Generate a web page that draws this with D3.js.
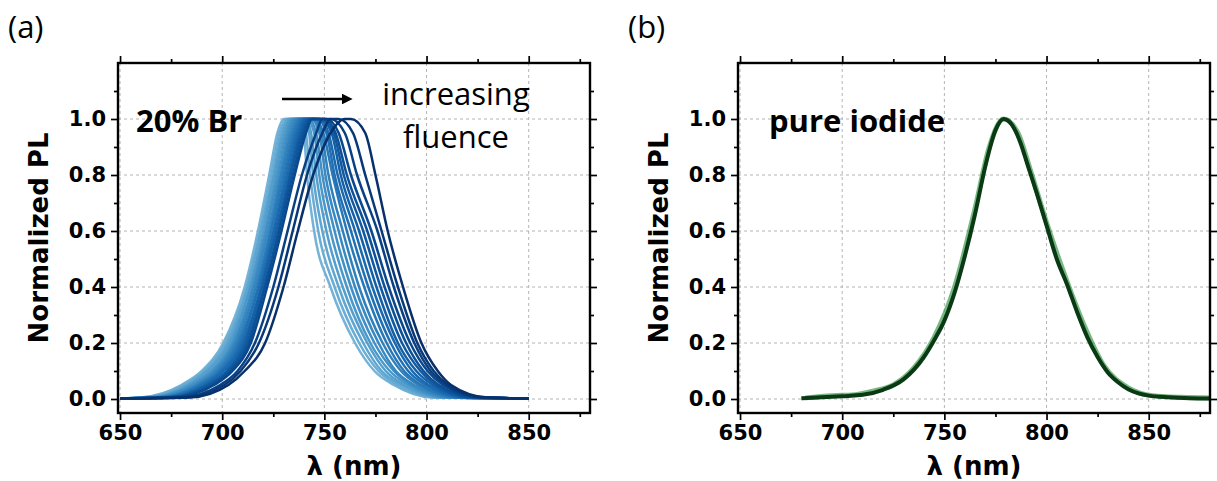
<!DOCTYPE html>
<html>
<head>
<meta charset="utf-8">
<script src="https://cdn.jsdelivr.net/npm/d3@7"></script>
<style>
  body { margin: 0; background: #fff; }
  svg text { fill: #000; }
  .tick-label { font-family: "DejaVu Sans"; font-weight: bold; font-size: 21px; }
  .axis-title { font-family: "DejaVu Sans"; font-weight: bold; font-size: 26px; }
  .note { font-family: "Open Sans"; font-size: 31px; }
  .grid line { stroke: #b4b4b4; stroke-width: 1; stroke-dasharray: 3,3; }
</style>
</head>
<body>
<svg id="chart" width="1217" height="481"></svg>
<script>
var levelsUp = [0.005, 0.05, 0.1, 0.2, 0.4, 0.6, 0.8, 0.95, 1.0];
var levelsDown = [1.0, 0.95, 0.8, 0.6, 0.4, 0.2, 0.1, 0.05, 0.005];

// 20% Br spectra, lowest fluence (light) to highest fluence (dark): wavelengths (nm) at levelsUp
var brRise = [
  [660, 680, 690, 700.5, 711, 717.5, 723, 727, 730],
  [661, 681, 691, 701.5, 712, 718.5, 724, 728, 731],
  [662.5, 682.5, 692, 702.5, 712.5, 719, 725, 729, 732],
  [663.5, 683.5, 693, 703.5, 713.5, 720, 725.5, 730, 733],
  [664.5, 684.5, 694.5, 704.5, 714, 721, 726.5, 731, 734],
  [665.5, 685.5, 695.5, 705.5, 715, 721.5, 727.5, 732, 735],
  [667, 687, 696.5, 706, 715.5, 722.5, 728.5, 733, 736],
  [668, 688, 697.5, 707, 716.5, 723.5, 729, 734, 737],
  [669, 689, 698.5, 708, 717.5, 724, 730, 735, 738],
  [670, 690, 699.5, 709, 718, 725, 731, 736, 739],
  [671.5, 691.5, 700.5, 710, 719, 725.5, 732, 737, 740],
  [672.5, 692.5, 702, 711, 719.5, 726.5, 733, 738, 741],
  [673.5, 693.5, 703, 712, 720.5, 727.5, 733.5, 739, 742],
  [675, 695, 704, 713, 721, 728, 734.5, 740, 743],
  [676, 696, 705, 714, 722, 729, 735.5, 741, 744],
  [679, 699, 707.5, 716, 725, 732, 739, 746, 749],
  [681, 701, 709, 718, 727.5, 734.5, 741.5, 749, 753],
  [684, 703, 711, 721, 730, 737, 744.5, 753, 760]
];
// same spectra: wavelengths (nm) at levelsDown
var brFall = [
  [738, 740, 741.5, 745, 753, 765, 774.5, 784, 803],
  [739, 741, 743, 747, 755, 767, 776.5, 785.5, 804.5],
  [740, 742.5, 744.5, 749, 757, 769, 778, 787.5, 806.5],
  [741, 743.5, 746, 751, 759, 771, 780, 789, 808],
  [741.5, 745, 747.5, 753, 761, 772.5, 782, 791, 809.5],
  [742.5, 746, 749, 755, 763, 774.5, 784, 792.5, 811],
  [743.5, 747.5, 750.5, 757, 765, 776.5, 785, 794, 813],
  [744.5, 748.5, 752, 759, 767, 778.5, 787.5, 796, 814.5],
  [745.5, 749.5, 754, 761, 769.5, 780.5, 789, 797.5, 816],
  [746.5, 751, 755, 763, 771.5, 782.5, 791, 799.5, 818],
  [747.5, 752, 756.5, 765, 773.5, 784.5, 793, 801, 819.5],
  [748, 753.5, 758, 767, 775.5, 786, 795, 803, 821],
  [749, 754.5, 759.5, 769, 777.5, 788, 797, 804.5, 822.5],
  [750, 755.5, 761, 771, 779.5, 790, 798.5, 806, 824],
  [751, 757, 763, 773, 781.5, 792, 800.5, 808, 826],
  [753, 760, 766, 776, 784, 794, 802, 809.5, 827],
  [757, 764, 770, 778, 786, 795.5, 803.5, 810.5, 828],
  [763, 770, 775, 781, 788.5, 797.5, 805.5, 812, 830]
];
var brStart = [650, 0.002], brEnd = [850, 0.002];

// pure iodide: [wavelength nm, normalized PL]
var iodide = [[680,0.003],[690,0.006],[700,0.01],[710,0.015],[720,0.033],[730,0.07],[740,0.15],[745,0.21],
  [750,0.28],[755,0.38],[760,0.51],[765,0.66],[770,0.83],[775,0.96],[779,1.0],[783,0.98],[787,0.92],
  [791,0.83],[795,0.74],[800,0.62],[805,0.5],[810,0.41],[815,0.31],[820,0.22],[825,0.15],[830,0.095],
  [835,0.06],[840,0.035],[845,0.02],[850,0.012],[860,0.006],[870,0.003],[880,0.002]];
var iodideLow = [[682,0.004],[695,0.012],[705,0.014],[715,0.028],[725,0.05],[735,0.11],[745,0.22],
  [755,0.4],[765,0.68],[772,0.9],[779,1.0],[786,0.95],[792,0.82],[800,0.63],[808,0.46],[818,0.27],
  [828,0.12],[840,0.04],[852,0.012],[866,0.006],[880,0.004]];

var xTicks = [650, 700, 750, 800, 850];
var xMinor = [675, 725, 775, 825, 875];
var yTicks = [0.0, 0.2, 0.4, 0.6, 0.8, 1.0];
var yMinor = [0.1, 0.3, 0.5, 0.7, 0.9, 1.1];

var svg = d3.select("#chart");
var plotTop = 63, plotBottom = 413;

var y = d3.scaleLinear().domain([-0.05, 1.2]).range([plotBottom, plotTop]);

function panel(left, right, label) {
  var x = d3.scaleLinear().domain([649, 880]).range([left, right]);
  var g = svg.append("g");

  // grid
  var grid = g.append("g").attr("class", "grid");
  grid.selectAll(".gx").data(xTicks).enter().append("line")
    .attr("x1", d => x(d)).attr("x2", d => x(d)).attr("y1", plotTop).attr("y2", plotBottom);
  grid.selectAll(".gy").data(yTicks).enter().append("line")
    .attr("x1", left).attr("x2", right).attr("y1", d => y(d)).attr("y2", d => y(d));

  // axes on four sides, ticks pointing out
  var fmtY = d3.format(".1f");
  var axB = g.append("g").attr("transform", "translate(0," + plotBottom + ")")
    .call(d3.axisBottom(x).tickValues(xTicks).tickSize(7).tickPadding(5));
  axB.append("g").call(d3.axisBottom(x).tickValues(xMinor).tickSize(4).tickFormat(""));
  var axT = g.append("g").attr("transform", "translate(0," + plotTop + ")")
    .call(d3.axisTop(x).tickValues(xTicks).tickSize(7).tickFormat(""));
  axT.append("g").call(d3.axisTop(x).tickValues(xMinor).tickSize(4).tickFormat(""));
  var axL = g.append("g").attr("transform", "translate(" + left + ",0)")
    .call(d3.axisLeft(y).tickValues(yTicks).tickSize(7).tickPadding(5).tickFormat(fmtY));
  axL.append("g").call(d3.axisLeft(y).tickValues(yMinor).tickSize(4).tickFormat(""));
  var axR = g.append("g").attr("transform", "translate(" + right + ",0)")
    .call(d3.axisRight(y).tickValues(yTicks).tickSize(7).tickFormat(""));
  axR.append("g").call(d3.axisRight(y).tickValues(yMinor).tickSize(4).tickFormat(""));

  g.selectAll(".domain").remove();
  g.selectAll(".tick line").attr("stroke", "#000").attr("stroke-width", 1.7);
  g.selectAll(".tick text").attr("class", "tick-label").attr("fill", "#000");

  g.append("text").attr("class", "axis-title")
    .attr("x", (left + right) / 2).attr("y", 475)
    .attr("text-anchor", "middle").text("λ (nm)");
  g.append("text").attr("class", "axis-title")
    .attr("transform", "translate(" + (left - 70) + "," + ((plotTop + plotBottom) / 2) + ") rotate(-90)")
    .attr("text-anchor", "middle").text("Normalized PL");

  svg.append("text").attr("class", "note").attr("x", left - 110).attr("y", 38)
    .attr("font-size", 27).text(label);

  var plot = g.append("g");
  return {x: x, g: g, plot: plot, left: left, right: right};
}

// (a) 20% Br
var pa = panel(118, 590, "(a)");
var lineA = d3.line().x(d => pa.x(d[0])).y(d => y(d[1])).curve(d3.curveMonotoneX);
var color = d3.scaleLinear().domain([0, brRise.length - 1]).range([0.48, 1.0]);

brRise.forEach(function (rise, i) {
  var pts = [brStart];
  rise.forEach((w, k) => pts.push([w, levelsUp[k]]));
  brFall[i].forEach((w, k) => pts.push([w, levelsDown[k]]));
  pts.push(brEnd);
  pa.plot.append("path")
    .attr("d", lineA(pts))
    .attr("fill", "none")
    .attr("stroke", d3.interpolateBlues(color(i)))
    .attr("stroke-width", 2.5);
});

pa.g.append("rect").attr("x", pa.left).attr("y", plotTop)
  .attr("width", pa.right - pa.left).attr("height", plotBottom - plotTop)
  .attr("fill", "none").attr("stroke", "#000").attr("stroke-width", 2.4);

svg.append("text").attr("class", "note").attr("x", 136).attr("y", 132)
  .attr("font-weight", "bold").text("20% Br");
svg.append("text").attr("class", "note").attr("x", 456).attr("y", 105)
  .attr("text-anchor", "middle").text("increasing");
svg.append("text").attr("class", "note").attr("x", 456).attr("y", 148)
  .attr("text-anchor", "middle").text("fluence");

svg.append("defs").append("marker").attr("id", "head")
  .attr("viewBox", "0 0 10 10").attr("refX", 2).attr("refY", 5)
  .attr("markerWidth", 4).attr("markerHeight", 4).attr("orient", "auto")
  .append("path").attr("d", "M0,0 L10,5 L0,10 z").attr("fill", "#000");
svg.append("line").attr("x1", 282).attr("x2", 344).attr("y1", 99).attr("y2", 99)
  .attr("stroke", "#000").attr("stroke-width", 2.7).attr("marker-end", "url(#head)");

// (b) pure iodide
var pb = panel(738, 1210, "(b)");
var lineB = d3.line().x(d => pb.x(d[0])).y(d => y(d[1])).curve(d3.curveMonotoneX);
pb.plot.append("path").attr("d", lineB(iodideLow)).attr("fill", "none")
  .attr("stroke", "#3f9a4f").attr("stroke-opacity", 0.7).attr("stroke-width", 5);
pb.plot.append("path").attr("d", lineB(iodide)).attr("fill", "none")
  .attr("stroke", "#0a3a14").attr("stroke-width", 4);

pb.g.append("rect").attr("x", pb.left).attr("y", plotTop)
  .attr("width", pb.right - pb.left).attr("height", plotBottom - plotTop)
  .attr("fill", "none").attr("stroke", "#000").attr("stroke-width", 2.4);

svg.append("text").attr("class", "note").attr("x", 769).attr("y", 132)
  .attr("font-weight", "bold").text("pure iodide");
</script>
</body>
</html>
